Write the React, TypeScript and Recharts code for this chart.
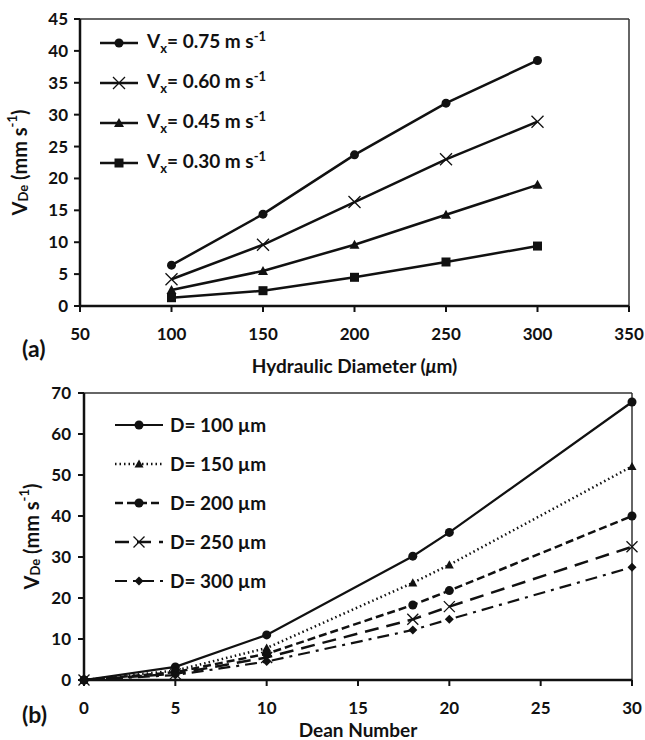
import React from 'react';
import { LineChart, Line, XAxis, YAxis, ReferenceLine, Legend, Label } from 'recharts';

// (a) V_De against hydraulic diameter, one line per inlet velocity
const diameters = [100, 150, 200, 250, 300];
const vx075 = [6.4, 14.4, 23.7, 31.8, 38.5];
const vx060 = [4.2, 9.6, 16.3, 23.0, 28.9];
const vx045 = [2.5, 5.5, 9.6, 14.3, 19.0];
const vx030 = [1.3, 2.4, 4.5, 6.9, 9.4];
const diameterTicks = [50, 100, 150, 200, 250, 300, 350];
const vdeTicksA = [0, 5, 10, 15, 20, 25, 30, 35, 40, 45];

// (b) V_De against Dean number, one line per channel diameter
const deanNumbers = [0, 5, 10, 18, 20, 30];
const d100 = [0, 3.2, 11.0, 30.2, 36.0, 67.8];
const d150 = [0, 2.3, 7.8, 23.7, 28.1, 52.1];
const d200 = [0, 1.9, 6.4, 18.3, 21.8, 40.0];
const d250 = [0, 1.5, 5.5, 14.8, 17.9, 32.5];
const d300 = [0, 1.2, 4.5, 12.2, 14.8, 27.5];
const deanTicks = [0, 5, 10, 15, 20, 25, 30];
const vdeTicksB = [0, 10, 20, 30, 40, 50, 60, 70];

const FONT = 'Lato, "Open Sans", sans-serif';
const INK = '#111';

type MarkerKind = 'circle' | 'cross' | 'triangle' | 'square' | 'diamond';

const Marker = ({ kind, cx, cy, size }: { kind: MarkerKind; cx: number; cy: number; size: number }) => {
  const s = size;
  switch (kind) {
    case 'circle':
      return <circle cx={cx} cy={cy} r={s} fill={INK} />;
    case 'cross':
      return (
        <path
          d={`M${cx - s},${cy - s}L${cx + s},${cy + s}M${cx - s},${cy + s}L${cx + s},${cy - s}`}
          stroke={INK}
          strokeWidth={1.3}
          fill="none"
        />
      );
    case 'triangle':
      return <polygon points={`${cx},${cy - s} ${cx + s},${cy + s * 0.8} ${cx - s},${cy + s * 0.8}`} fill={INK} />;
    case 'square':
      return <rect x={cx - s} y={cy - s} width={s * 2} height={s * 2} fill={INK} />;
    case 'diamond':
      return <polygon points={`${cx},${cy - s} ${cx + s},${cy} ${cx},${cy + s} ${cx - s},${cy}`} fill={INK} />;
  }
};

interface Series {
  key: string;
  label: string;
  values: number[];
  marker: MarkerKind;
  size: number;
  dash?: string;
  width: number;
}

const seriesA: Series[] = [
  { key: 'v075', label: '0.75', values: vx075, marker: 'circle', size: 4.5, width: 2.5 },
  { key: 'v060', label: '0.60', values: vx060, marker: 'cross', size: 6, width: 2.5 },
  { key: 'v045', label: '0.45', values: vx045, marker: 'triangle', size: 5, width: 2.5 },
  { key: 'v030', label: '0.30', values: vx030, marker: 'square', size: 4.5, width: 2.5 },
];

const seriesB: Series[] = [
  { key: 'd100', label: '100', values: d100, marker: 'circle', size: 4.5, width: 2.2 },
  { key: 'd150', label: '150', values: d150, marker: 'triangle', size: 4.5, width: 2.5, dash: '1.5 3' },
  { key: 'd200', label: '200', values: d200, marker: 'circle', size: 4.5, width: 2.5, dash: '8 4' },
  { key: 'd250', label: '250', values: d250, marker: 'cross', size: 5.5, width: 2.5, dash: '14 8' },
  { key: 'd300', label: '300', values: d300, marker: 'diamond', size: 4.5, width: 2.2, dash: '12 6 3 6' },
];

const dataA = diameters.map((d, i) => {
  const row: Record<string, number> = { x: d };
  seriesA.forEach((s) => (row[s.key] = s.values[i]));
  return row;
});

const dataB = deanNumbers.map((dn, i) => {
  const row: Record<string, number> = { x: dn };
  seriesB.forEach((s) => (row[s.key] = s.values[i]));
  return row;
});

const renderDot = (s: Series) => (p: any) => (
  <Marker key={`${s.key}-${p.index}`} kind={s.marker} cx={p.cx} cy={p.cy} size={s.size} />
);

const tickStyle = { fill: INK, fontFamily: FONT, fontWeight: 700, fontSize: 17 };
const axisLine = { stroke: INK, strokeWidth: 2.5 };
const tickLine = { stroke: INK, strokeWidth: 2 };

// rotated "V_De (mm s^-1)" title, centred on the y axis box
const YTitle = ({ viewBox, dx }: any) => {
  const cx = viewBox.x + dx;
  const cy = viewBox.y + viewBox.height / 2;
  return (
    <text
      x={cx}
      y={cy}
      transform={`rotate(-90, ${cx}, ${cy})`}
      textAnchor="middle"
      dominantBaseline="central"
      fill={INK}
      fontFamily={FONT}
      fontWeight={700}
      fontSize={20}
    >
      V<tspan fontSize={13} dy={4}>De</tspan>
      <tspan dy={-4}> (mm s</tspan>
      <tspan fontSize={13} dy={-7}>-1</tspan>
      <tspan dy={7}>)</tspan>
    </text>
  );
};

const XTitle = ({ viewBox, dy, children }: any) => (
  <text
    x={viewBox.x + viewBox.width / 2}
    y={viewBox.y + dy}
    textAnchor="middle"
    dominantBaseline="central"
    fill={INK}
    fontFamily={FONT}
    fontWeight={700}
    fontSize={19}
  >
    {children}
  </text>
);

const LegendRows = ({ series, rowHeight, lineWidth, gap, text }: any) => (
  <div style={{ fontFamily: FONT, fontWeight: 700, fontSize: 19, color: INK }}>
    {series.map((s: Series) => (
      <div key={s.key} style={{ display: 'flex', alignItems: 'center', height: rowHeight }}>
        <svg width={lineWidth} height={16} style={{ overflow: 'visible' }}>
          <line x1={0} x2={lineWidth} y1={8} y2={8} stroke={INK} strokeWidth={s.width} strokeDasharray={s.dash} />
          <Marker kind={s.marker} cx={lineWidth / 2} cy={8} size={s.size} />
        </svg>
        <span style={{ marginLeft: gap, whiteSpace: 'nowrap', lineHeight: 1 }}>{text(s)}</span>
      </div>
    ))}
  </div>
);

const panelLetter: React.CSSProperties = {
  position: 'absolute',
  fontFamily: FONT,
  fontWeight: 700,
  fontSize: 23,
  color: INK,
  lineHeight: 1,
};

const App = () => (
  <div style={{ position: 'absolute', left: 0, top: 0, width: 645, height: 740, background: '#fff' }}>
    <div style={{ position: 'absolute', left: 0, top: 0 }}>
      <LineChart width={645} height={380} data={dataA} margin={{ top: 19, right: 16, left: 0, bottom: 4 }}>
        <XAxis
          dataKey="x"
          type="number"
          domain={[50, 350]}
          ticks={diameterTicks}
          axisLine={axisLine}
          tickLine={tickLine}
          tickSize={6}
          tickMargin={16}
          tick={tickStyle}
          height={70}
        >
          <Label
            content={(p: any) => (
              <XTitle viewBox={p.viewBox} dy={59}>
                Hydraulic Diameter (<tspan fontStyle="italic">μ</tspan>m)
              </XTitle>
            )}
          />
        </XAxis>
        <YAxis
          type="number"
          domain={[0, 45]}
          ticks={vdeTicksA}
          axisLine={axisLine}
          tickLine={tickLine}
          tickSize={6}
          tickMargin={6}
          tick={tickStyle}
          width={80}
        >
          <Label content={(p: any) => <YTitle viewBox={p.viewBox} dx={19} />} />
        </YAxis>
        <ReferenceLine y={45} stroke="#333" strokeWidth={1.5} />
        <ReferenceLine x={350} stroke="#333" strokeWidth={1.5} />
        {seriesA.map((s) => (
          <Line
            key={s.key}
            dataKey={s.key}
            type="linear"
            stroke={INK}
            strokeWidth={s.width}
            dot={renderDot(s)}
            activeDot={false}
            isAnimationActive={false}
          />
        ))}
        <Legend
          layout="vertical"
          align="center"
          verticalAlign="middle"
          wrapperStyle={{ top: 23, left: 100, width: 280 }}
          content={() => (
            <LegendRows
              series={seriesA}
              rowHeight={40}
              lineWidth={38}
              gap={9}
              text={(s: Series) => (
                <>
                  V<sub style={{ fontSize: 13 }}>x</sub>= {s.label} m s<sup style={{ fontSize: 13 }}>-1</sup>
                </>
              )}
            />
          )}
        />
      </LineChart>
    </div>
    <div style={{ ...panelLetter, left: 22, top: 337 }}>(a)</div>

    <div style={{ position: 'absolute', left: 0, top: 380 }}>
      <LineChart width={645} height={360} data={dataB} margin={{ top: 13, right: 13, left: 0, bottom: 0 }}>
        <XAxis
          dataKey="x"
          type="number"
          domain={[0, 30]}
          ticks={deanTicks}
          axisLine={axisLine}
          tickLine={tickLine}
          tickSize={6}
          tickMargin={16}
          tick={tickStyle}
          height={60}
        >
          <Label content={(p: any) => <XTitle viewBox={p.viewBox} dy={49}>Dean Number</XTitle>} />
        </XAxis>
        <YAxis
          type="number"
          domain={[0, 70]}
          ticks={vdeTicksB}
          axisLine={axisLine}
          tickLine={tickLine}
          tickSize={6}
          tickMargin={7}
          tick={tickStyle}
          width={84}
        >
          <Label content={(p: any) => <YTitle viewBox={p.viewBox} dx={31} />} />
        </YAxis>
        <ReferenceLine y={70} stroke="#333" strokeWidth={1.5} />
        <ReferenceLine x={30} stroke="#333" strokeWidth={1.5} />
        {seriesB.map((s) => (
          <Line
            key={s.key}
            dataKey={s.key}
            type="linear"
            stroke={INK}
            strokeWidth={s.width}
            strokeDasharray={s.dash}
            dot={renderDot(s)}
            activeDot={false}
            isAnimationActive={false}
          />
        ))}
        <Legend
          layout="vertical"
          align="center"
          verticalAlign="middle"
          wrapperStyle={{ top: 25, left: 115, width: 240 }}
          content={() => (
            <LegendRows
              series={seriesB}
              rowHeight={39}
              lineWidth={48}
              gap={7}
              text={(s: Series) => <>D= {s.label} µm</>}
            />
          )}
        />
      </LineChart>
    </div>
    <div style={{ ...panelLetter, left: 22, top: 703 }}>(b)</div>
  </div>
);

export default App;
